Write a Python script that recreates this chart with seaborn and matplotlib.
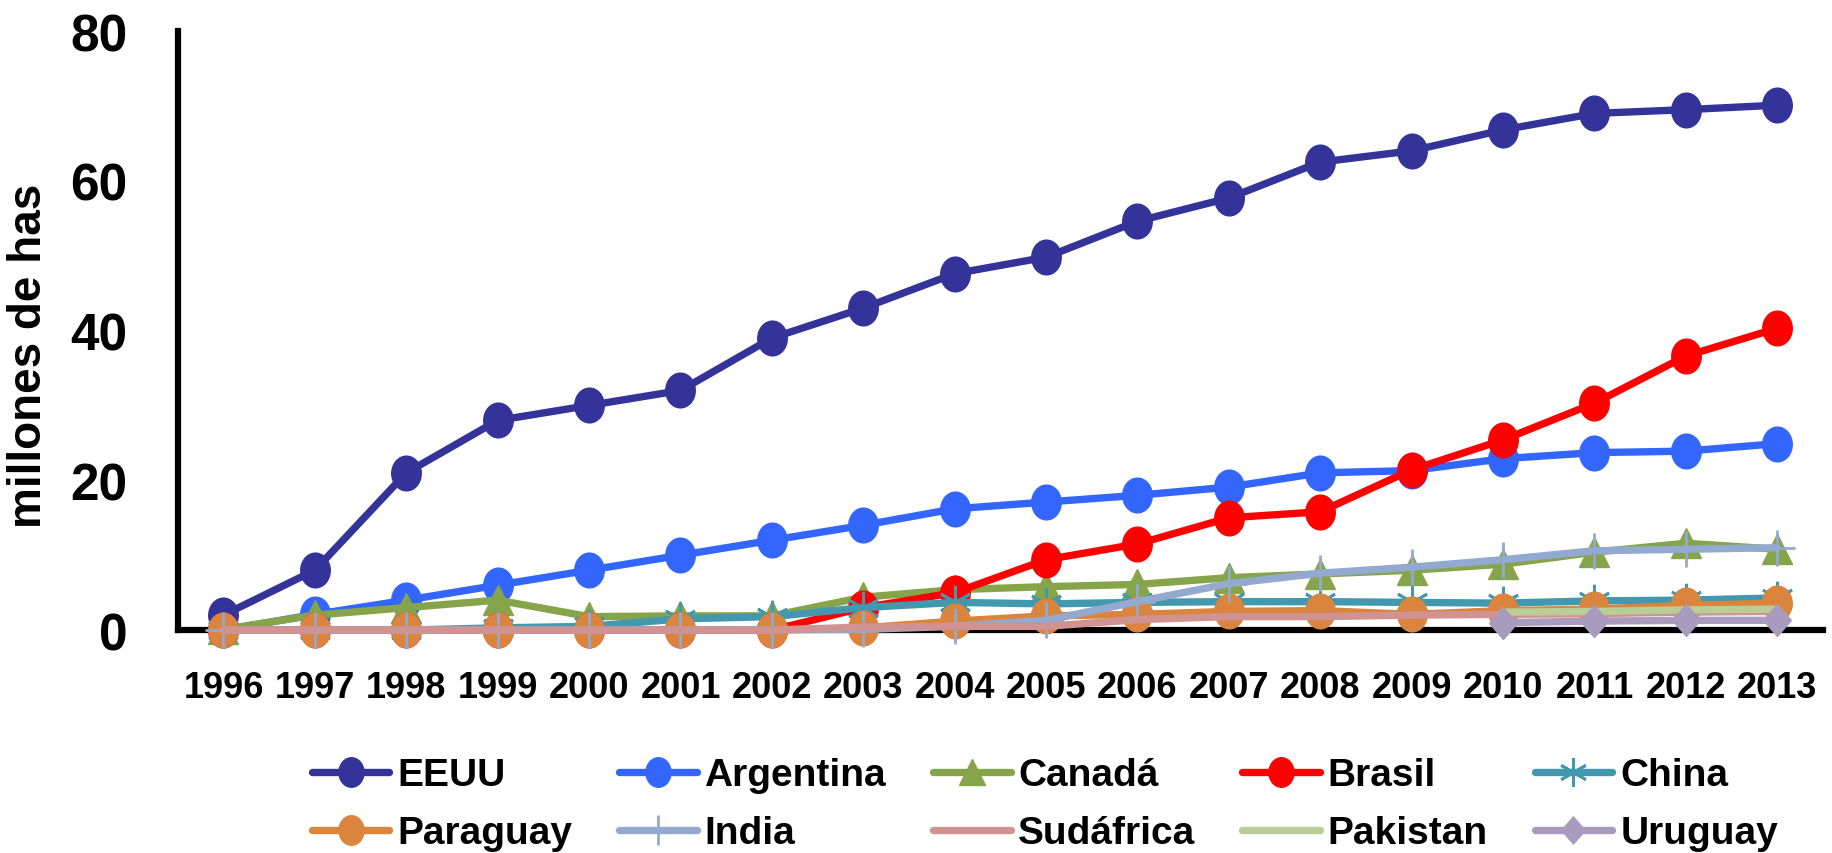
import numpy as np
import pandas as pd
import matplotlib.pyplot as plt
from matplotlib.path import Path
import seaborn as sns

years = list(range(1996, 2014))
nan = np.nan

eeuu = [2.0, 8.0, 21.0, 28.0, 30.0, 32.0, 39.0, 43.0, 47.6, 49.8, 54.6, 57.7, 62.5, 64.0, 66.8, 69.0, 69.5, 70.1]
argentina = [0.0, 2.1, 4.0, 6.0, 8.0, 10.0, 12.0, 14.0, 16.2, 17.1, 18.0, 19.1, 21.0, 21.3, 22.9, 23.7, 23.9, 24.9]
canada = [0.1, 2.0, 3.0, 4.0, 1.8, 1.9, 1.9, 4.4, 5.4, 5.8, 6.1, 7.0, 7.5, 8.0, 8.8, 10.4, 11.6, 10.8]
brasil = [0.0, 0.0, 0.0, 0.0, 0.0, 0.0, 0.0, 3.0, 5.0, 9.4, 11.5, 15.0, 15.8, 21.4, 25.4, 30.3, 36.6, 40.3]
china = [0.0, 0.0, 0.0, 0.3, 0.5, 1.5, 1.8, 3.0, 3.7, 3.5, 3.7, 3.8, 3.8, 3.7, 3.6, 3.9, 4.0, 4.3]
paraguay = [0.0, 0.0, 0.0, 0.0, 0.0, 0.0, 0.0, 0.3, 1.2, 1.9, 2.1, 2.5, 2.6, 2.1, 2.6, 2.8, 3.3, 3.6]
india = [0.0, 0.0, 0.0, 0.0, 0.0, 0.0, 0.05, 0.1, 0.5, 1.3, 3.8, 6.2, 7.6, 8.4, 9.4, 10.6, 10.8, 11.0]
sudafrica = [0.0, 0.0, 0.0, 0.0, 0.0, 0.0, 0.0, 0.4, 0.5, 0.5, 1.4, 1.8, 1.8, 2.0, 2.1, 2.2, 2.4, 2.5]
pakistan = [nan] * 14 + [2.4, 2.5, 2.7, 2.8]
uruguay = [nan] * 14 + [1.0, 1.2, 1.3, 1.3]

series = {
    'EEUU': eeuu, 'Argentina': argentina, 'Canadá': canada, 'Brasil': brasil,
    'China': china, 'Paraguay': paraguay, 'India': india, 'Sudáfrica': sudafrica,
    'Pakistan': pakistan, 'Uruguay': uruguay,
}

# slightly narrow markers, like the squeezed excel ones
circ = Path.unit_circle()
oval = Path(circ.vertices * [0.85, 1.0], circ.codes)
diamond = Path([(0, 1), (0.87, 0), (0, -1), (-0.87, 0), (0, 1)],
               [Path.MOVETO, Path.LINETO, Path.LINETO, Path.LINETO, Path.CLOSEPOLY])

# colour, marker, marker size for each country
styles = {
    'EEUU': ('#333399', oval, 25),
    'Argentina': ('#3366FF', oval, 25),
    'Canadá': ('#86A44A', '^', 22),
    'Brasil': ('#FF0000', oval, 25),
    'China': ('#4198AF', (6, 2, 0), 24),
    'Paraguay': ('#DB843D', oval, 25),
    'India': ('#93A9CF', '+', 26),
    'Sudáfrica': ('#D19392', None, 0),
    'Pakistan': ('#B9CD96', None, 0),
    'Uruguay': ('#A99BBD', diamond, 23),
}

df = pd.DataFrame(series)
df['pos'] = np.arange(len(years))

sns.set_style('white')
plt.rcParams['font.family'] = ['Liberation Sans', 'DejaVu Sans']
plt.rcParams['font.weight'] = 'bold'
plt.rcParams['text.color'] = 'black'
plt.rcParams['axes.labelcolor'] = 'black'
plt.rcParams['xtick.color'] = 'black'
plt.rcParams['ytick.color'] = 'black'

fig = plt.figure(figsize=(18.33, 8.54), dpi=100)
ax = fig.add_axes([0.097, 0.261, 0.8975, 0.7015])

for i, (name, (col, mk, ms)) in enumerate(styles.items()):
    sub = df[['pos', name]].dropna()
    kw = dict(color=col, linewidth=5.3, clip_on=False, zorder=3 + i, label=name)
    if mk is not None:
        thin = isinstance(mk, tuple) or mk == '+'
        kw.update(marker=mk, markersize=ms, markeredgecolor=col, markerfacecolor=col,
                  markeredgewidth=2 if thin else 1)
    sns.lineplot(x=sub['pos'], y=sub[name], ax=ax, **kw)

ax.set_xlim(-0.5, len(years) - 0.5)
ax.set_ylim(0, 80)
ax.set_yticks([0, 20, 40, 60, 80])
ax.set_xticks(np.arange(-0.5, len(years), 1.0))
ax.set_xticklabels([])
ax.set_xticks(np.arange(len(years)), minor=True)
ax.set_xticklabels([str(y) for y in years], minor=True, fontsize=26, fontweight='bold')
ax.tick_params(axis='x', which='minor', length=0, pad=29)
ax.tick_params(axis='x', which='major', direction='out', length=9, width=4, color='black')
ax.tick_params(axis='y', direction='out', length=14, width=4, color='black', labelsize=37, pad=22)
for lab in ax.get_yticklabels():
    lab.set_fontweight('bold')

for s in ['top', 'right']:
    ax.spines[s].set_visible(False)
for s in ['left', 'bottom']:
    ax.spines[s].set_linewidth(4.5)
    ax.spines[s].set_color('black')
    ax.spines[s].set_zorder(2)

ax.set_xlabel('')
ax.set_ylabel('millones de has', fontsize=33, fontweight='bold')
ax.yaxis.set_label_coords(-0.077, 0.46)

handles, labels = ax.get_legend_handles_labels()
if ax.get_legend() is not None:
    ax.get_legend().remove()
# legend fills column by column, so interleave to read row by row
order = [0, 5, 1, 6, 2, 7, 3, 8, 4, 9]
fig.legend([handles[k] for k in order], [labels[k] for k in order], ncol=5,
           loc='lower center', bbox_to_anchor=(0.57, -0.039),
           frameon=False, handlelength=2.0, handletextpad=0.2, markerscale=0.85,
           columnspacing=1.2, labelspacing=0.57,
           prop={'weight': 'bold', 'size': 28})

fig.savefig('out.png', dpi=100)
